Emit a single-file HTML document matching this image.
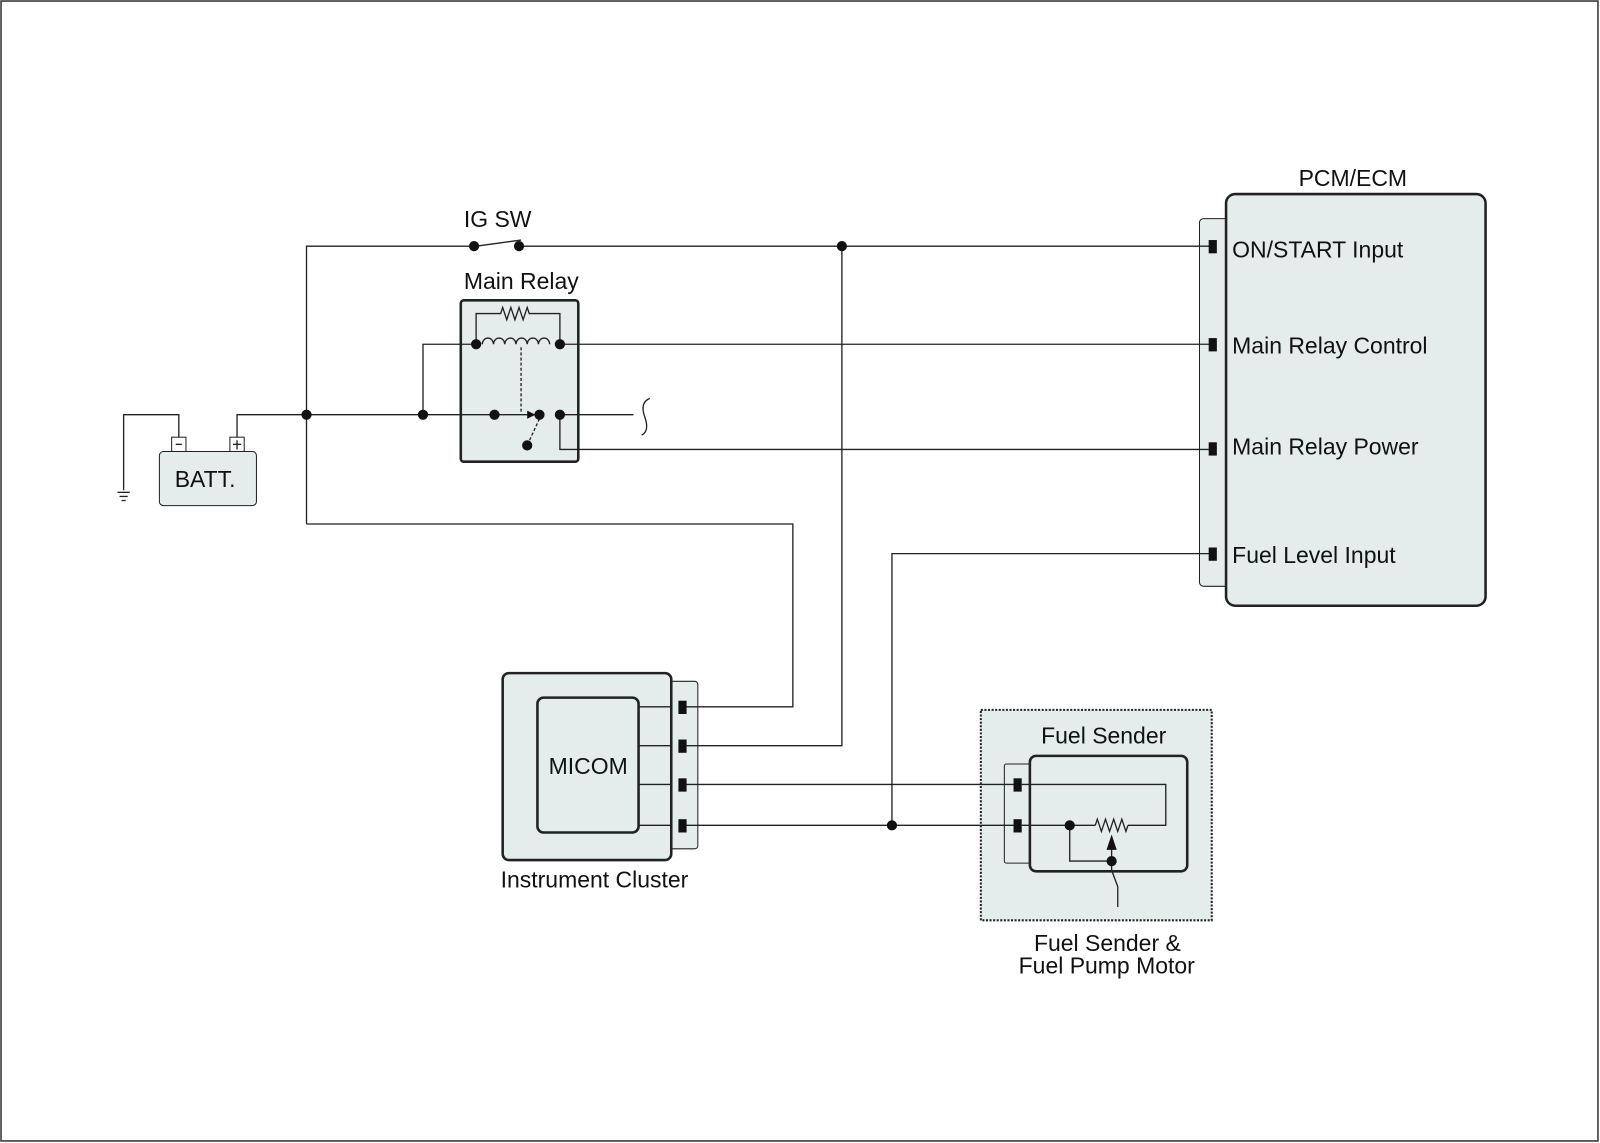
<!DOCTYPE html>
<html><head><meta charset="utf-8"><style>
html,body{margin:0;padding:0;background:#fff}
svg{display:block}
text{font-family:"Liberation Sans",sans-serif;fill:#111}
</style></head><body>
<svg width="1600" height="1143" viewBox="0 0 1566 1119" preserveAspectRatio="none" xmlns="http://www.w3.org/2000/svg">
<rect x="1" y="1" width="1563" height="1116" fill="#fff" stroke="#333" stroke-width="1.5"/>
<g fill="#e4ecec" stroke="#222">
<rect x="1174" y="214" width="30" height="360" rx="4" stroke-width="1"/>
<rect x="1200" y="190" width="254" height="403" rx="9" stroke-width="2.5"/>
<rect x="451" y="294" width="115" height="158" rx="3" stroke-width="2.5"/>
<rect x="156" y="442" width="95" height="53" rx="4" stroke-width="1"/>
<rect x="168" y="428" width="14" height="14" fill="#fff" stroke-width="1"/>
<rect x="225" y="428" width="14" height="14" fill="#fff" stroke-width="1"/>
<rect x="654" y="667" width="29" height="164" rx="3" stroke-width="1"/>
<rect x="492" y="659" width="165" height="183" rx="6" stroke-width="2.5"/>
<rect x="526" y="683" width="99" height="132" rx="6" stroke-width="2.5"/>
<rect x="960" y="695" width="226" height="206" stroke-dasharray="2,1.5" stroke-width="2"/>
<rect x="983" y="748" width="30" height="97" rx="2" stroke-width="1"/>
<rect x="1008" y="740" width="154" height="113" rx="6" stroke-width="2.5"/>
</g>
<g fill="none" stroke="#222" stroke-width="1.3">
<polyline points="300,513 300,241 464,241"/>
<line x1="466" y1="241" x2="510" y2="235"/>
<line x1="508" y1="241" x2="1184" y2="241"/>
<polyline points="175,428 175,406 121,406 121,480"/>
<line x1="115" y1="482" x2="127" y2="482"/><line x1="117" y1="486" x2="125" y2="486"/><line x1="119" y1="490" x2="123" y2="490"/>
<polyline points="232,428 232,406 528,406"/>
<line x1="228" y1="435" x2="236" y2="435"/><line x1="232" y1="431" x2="232" y2="440"/>
<line x1="172" y1="435" x2="178" y2="435"/>
<polyline points="414,406 414,337 466,337"/>
<polyline points="466,337 466,307 490,307 492,301 496,313 500,301 504,313 508,301 512,313 516,301 518,307 548,307 548,337"/>
<path d="M472,337 a5.5,6 0 0 1 11,0 a5.5,6 0 0 1 11,0 a5.5,6 0 0 1 11,0 a5.5,6 0 0 1 11,0 a5.5,6 0 0 1 11,0 a5.5,6 0 0 1 11,0"/>
<line x1="548" y1="337" x2="1184" y2="337"/>
<line x1="510" y1="340" x2="510" y2="404" stroke-dasharray="3,2"/>
<line x1="528" y1="410" x2="516" y2="436" stroke-dasharray="3,2"/>
<polyline points="548,406 620,406"/>
<path d="M636,390 q-10,4 -5,18 q5,14 -3,18"/>
<polyline points="548,406 548,440 1184,440"/>
<polyline points="300,513 776,513 776,692 668,692"/>
<polyline points="824,241 824,730 668,730"/>
<line x1="625" y1="692" x2="657" y2="692"/><line x1="625" y1="730" x2="657" y2="730"/>
<line x1="625" y1="768" x2="657" y2="768"/><line x1="625" y1="808" x2="657" y2="808"/>
<line x1="668" y1="768" x2="996" y2="768"/>
<line x1="668" y1="808" x2="996" y2="808"/>
<polyline points="873,808 873,542 1184,542"/>
<polyline points="1000,768 1141,768 1141,808 1104,808"/>
<polyline points="1000,808 1072,808"/>
<polyline points="1072,808 1074,802 1078,814 1082,802 1086,814 1090,802 1094,814 1098,802 1102,814 1104,808"/>
<polyline points="1047,808 1047,843 1088,843"/>
<line x1="1088" y1="840" x2="1088" y2="826"/>
<polyline points="1088,843 1088,852 1094,868 1094,888"/>
</g>
<g fill="#111">
<circle cx="464" cy="241" r="5"/><circle cx="508" cy="241" r="5"/><circle cx="824" cy="241" r="5"/>
<circle cx="300" cy="406" r="5"/><circle cx="414" cy="406" r="5"/><circle cx="484" cy="406" r="5"/>
<circle cx="528" cy="406" r="5"/><circle cx="548" cy="406" r="5"/><circle cx="516" cy="436" r="5"/>
<circle cx="466" cy="337" r="5"/><circle cx="548" cy="337" r="5"/>
<polygon points="516,402 524,406 516,410"/>
<circle cx="873" cy="808" r="5"/><circle cx="1047" cy="808" r="5"/><circle cx="1088" cy="843" r="5"/>
<polygon points="1088,817 1083,832 1093,832"/>
<rect x="1183" y="235" width="8" height="13"/><rect x="1183" y="331" width="8" height="13"/>
<rect x="1183" y="433" width="8" height="13"/><rect x="1183" y="536" width="8" height="13"/>
<rect x="664" y="686" width="8" height="13"/><rect x="664" y="724" width="8" height="13"/>
<rect x="664" y="762" width="8" height="13"/><rect x="664" y="802" width="8" height="13"/>
<rect x="992" y="762" width="8" height="13"/><rect x="992" y="802" width="8" height="13"/>
</g>
<g font-size="22.5">
<text x="1271" y="182">PCM/ECM</text>
<text x="1206" y="252">ON/START Input</text>
<text x="1206" y="346">Main Relay Control</text>
<text x="1206" y="445">Main Relay Power</text>
<text x="1206" y="551">Fuel Level Input</text>
<text x="454" y="222">IG SW</text>
<text x="454" y="283">Main Relay</text>
<text x="171" y="477">BATT.</text>
<text x="537" y="758">MICOM</text>
<text x="490" y="869">Instrument Cluster</text>
<text x="1019" y="728">Fuel Sender</text>
<text x="1012" y="931">Fuel Sender &amp;</text>
<text x="997" y="953">Fuel Pump Motor</text>
</g>
</svg>
</body></html>
